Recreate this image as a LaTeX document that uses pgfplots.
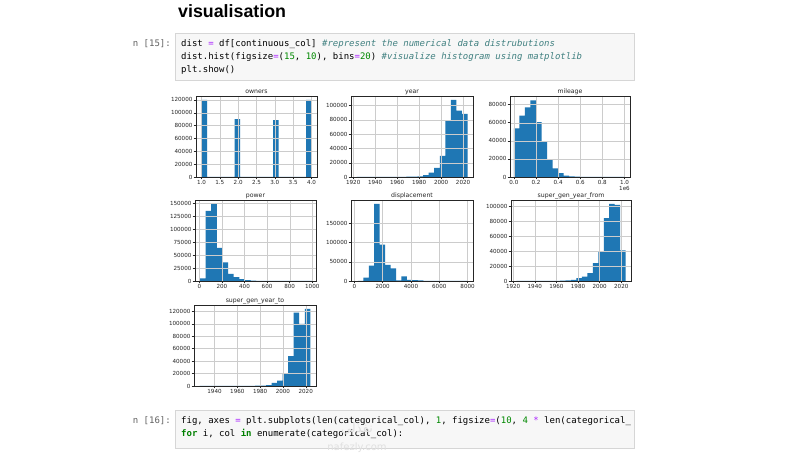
\documentclass[border=0pt]{standalone}
\usepackage{pgfplots}
\pgfplotsset{compat=1.18}
\usepackage{fontspec}
\setmainfont{DejaVu Sans}
\newfontfamily\headfont{Liberation Sans}
\newfontfamily\codefont{DejaVu Sans Mono}
\newfontfamily\arabicfont[Script=Arabic]{DejaVu Sans}
\TeXXeTstate=1
\definecolor{mplblue}{HTML}{1F77B4}
\definecolor{cmop}{HTML}{AA22FF}
\definecolor{cmnum}{HTML}{008800}
\definecolor{cmcom}{HTML}{408080}
\definecolor{cmkw}{HTML}{008000}
\definecolor{promptc}{HTML}{616161}
\pgfplotsset{
  every axis title/.style={at={(0.5,1)}, anchor=base, inner sep=0pt, yshift=2.8pt, font=\fontsize{6.2}{7}\selectfont, text=black!85},
  hist/.style={
  scale only axis, width=121pt, height=81pt,
  axis on top, grid=major, grid style={line width=0.35pt, color=black!20},
  axis line style={line width=0.45pt, black!85},
  tick style={line width=0.4pt, black!85}, major tick length=2.4pt, tick align=outside, tick pos=left,
  ticklabel style={font=\fontsize{5.6}{6}\selectfont, text=black!85},
  scaled ticks=false,
  ymin=0,
  xticklabel style={inner sep=1pt}, yticklabel style={inner sep=1pt},
}}
\begin{document}
\begin{tikzpicture}[x=1pt,y=1pt]
\path[fill=white] (0,0) rectangle (800,460);
% heading
\node[anchor=base west, inner sep=0] at (178,442) {\headfont\bfseries\fontsize{17.8}{20}\selectfont visualisation};
% first code cell
\filldraw[fill=black!3, draw=black!16, line width=0.5pt] (175,427) rectangle (634,380);
\node[anchor=base east, inner sep=0, text=promptc] at (171,413) {\codefont\fontsize{9}{11}\selectfont n [15]:};
\node[anchor=base west, inner sep=0] at (181,413) {\codefont\fontsize{9}{11}\selectfont dist {\color{cmop}=} df[continuous\_col] {\color{cmcom}\itshape \#represent the numerical data distrubutions}};
\node[anchor=base west, inner sep=0] at (181,400) {\codefont\fontsize{9}{11}\selectfont dist.hist(figsize{\color{cmop}=}({\color{cmnum}15}, {\color{cmnum}10}), bins{\color{cmop}=}{\color{cmnum}20}) {\color{cmcom}\itshape \#visualize histogram using matplotlib}};
\node[anchor=base west, inner sep=0] at (181,387) {\codefont\fontsize{9}{11}\selectfont plt.show()};
% second code cell
\filldraw[fill=black!3, draw=black!16, line width=0.5pt] (175,50) rectangle (634,12);
\node[anchor=base east, inner sep=0, text=promptc] at (171,36) {\codefont\fontsize{9}{11}\selectfont n [16]:};
\node[anchor=base west, inner sep=0] at (181,36) {\codefont\fontsize{9}{11}\selectfont fig, axes {\color{cmop}=} plt.subplots(len(categorical\_col), {\color{cmnum}1}, figsize{\color{cmop}=}({\color{cmnum}10}, {\color{cmnum}4} {\color{cmop}*} len(categorical\_};
\node[anchor=base west, inner sep=0] at (181,23) {\codefont\fontsize{9}{11}\selectfont {\color{cmkw}\bfseries for} i, col {\color{cmkw}\bfseries in} enumerate(categorical\_col):};
% watermark
\node[text=black!12, inner sep=0] at (357,31) {\arabicfont\fontsize{13}{15}\selectfont\beginR نفذلي\endR};
\node[text=black!12, inner sep=0] at (357,12) {\fontsize{10}{12}\selectfont nafezly.com};

% ---------- owners
\begin{axis}[hist, at={(196pt,283pt)}, anchor=south west, title={owners},
  xmin=0.85, xmax=4.15, ymax=126000,
  xtick={1,1.5,2,2.5,3,3.5,4}, xticklabels={1.0,1.5,2.0,2.5,3.0,3.5,4.0},
  ytick={0,20000,40000,60000,80000,100000,120000}, yticklabels={0,20000,40000,60000,80000,100000,120000}]
\addplot[ybar interval, fill=mplblue, draw=none] coordinates {
(1.00,120000) (1.15,0) (1.30,0) (1.45,0) (1.60,0) (1.75,0) (1.90,90000) (2.05,0) (2.20,0) (2.35,0)
(2.50,0) (2.65,0) (2.80,0) (2.95,88500) (3.10,0) (3.25,0) (3.40,0) (3.55,0) (3.70,0) (3.85,120000) (4.00,120000)};
\end{axis}
% ---------- year
\begin{axis}[hist, at={(351pt,283pt)}, anchor=south west, width=122pt, title={year},
  xmin=1918, xmax=2029, ymax=113400,
  xtick={1920,1940,1960,1980,2000,2020}, xticklabels={1920,1940,1960,1980,2000,2020},
  ytick={0,20000,40000,60000,80000,100000}, yticklabels={0,20000,40000,60000,80000,100000}]
\addplot[ybar interval, fill=mplblue, draw=none] coordinates {
(1923.00,30) (1928.05,20) (1933.10,20) (1938.15,30) (1943.20,40) (1948.25,60) (1953.30,100) (1958.35,150)
(1963.40,250) (1968.45,400) (1973.50,600) (1978.55,1000) (1983.60,2500) (1988.65,6000) (1993.70,12700)
(1998.75,29600) (2003.80,79000) (2008.85,108000) (2013.90,93000) (2018.95,88300) (2024.00,88300)};
\end{axis}
% ---------- mileage
\begin{axis}[hist, at={(510pt,283pt)}, anchor=south west, width=120pt, title={mileage}, clip=false,
  xmin=-0.035, xmax=1.05, ymax=89500,
  xtick={0,0.2,0.4,0.6,0.8,1.0}, xticklabels={0.0,0.2,0.4,0.6,0.8,1.0},
  ytick={0,20000,40000,60000,80000}, yticklabels={0,20000,40000,60000,80000}]
\addplot[ybar interval, fill=mplblue, draw=none] coordinates {
(0.00,53800) (0.05,67800) (0.10,77000) (0.15,84800) (0.20,60700) (0.25,38900) (0.30,19600) (0.35,9600)
(0.40,4200) (0.45,1600) (0.50,700) (0.55,300) (0.60,150) (0.65,80) (0.70,50) (0.75,30) (0.80,20)
(0.85,10) (0.90,10) (0.95,10) (1.00,10)};
\node[anchor=north east, inner sep=0, font=\fontsize{5.6}{6}\selectfont, text=black!85] at (rel axis cs:1,0) [yshift=-9.5pt] {1e6};
\end{axis}
% ---------- power
\begin{axis}[hist, at={(195pt,179pt)}, anchor=south west, title={power},
  xmin=-38, xmax=1033, ymax=157000,
  xtick={0,200,400,600,800,1000}, xticklabels={0,200,400,600,800,1000},
  ytick={0,25000,50000,75000,100000,125000,150000}, yticklabels={0,25000,50000,75000,100000,125000,150000}]
\addplot[ybar interval, fill=mplblue, draw=none] coordinates {
(6,5000) (55.7,136000) (105.4,149500) (155.1,64300) (204.8,36000) (254.5,14000) (304.2,7300) (353.9,3500)
(403.6,1500) (453.3,600) (503,300) (552.7,150) (602.4,80) (652.1,50) (701.8,30) (751.5,20) (801.2,10)
(850.9,10) (900.6,10) (950.3,10) (1000,10)};
\end{axis}
% ---------- displacement
\begin{axis}[hist, at={(351pt,179pt)}, anchor=south west, width=122pt, title={displacement},
  xmin=-233, xmax=8382, ymax=210000,
  xtick={0,2000,4000,6000,8000}, xticklabels={0,2000,4000,6000,8000},
  ytick={0,50000,100000,150000}, yticklabels={0,50000,100000,150000}]
\addplot[ybar interval, fill=mplblue, draw=none] coordinates {
(252,100) (637,9000) (1022,40000) (1407,200000) (1792,94000) (2177,42000) (2562,33000) (2947,1500)
(3332,12000) (3717,3000) (4102,2500) (4487,1500) (4872,500) (5257,300) (5642,200) (6027,100) (6412,100)
(6797,50) (7182,30) (7567,50) (7952,50)};
\end{axis}
% ---------- super_gen_year_from
\begin{axis}[hist, at={(511pt,179pt)}, anchor=south west, width=120pt, title={super\_gen\_year\_from},
  xmin=1918, xmax=2029, ymax=108150,
  xtick={1920,1940,1960,1980,2000,2020}, xticklabels={1920,1940,1960,1980,2000,2020},
  ytick={0,20000,40000,60000,80000,100000}, yticklabels={0,20000,40000,60000,80000,100000}]
\addplot[ybar interval, fill=mplblue, draw=none] coordinates {
(1923.00,20) (1928.05,20) (1933.10,30) (1938.15,50) (1943.20,80) (1948.25,100) (1953.30,200) (1958.35,300)
(1963.40,500) (1968.45,700) (1973.50,1500) (1978.55,4000) (1983.60,5800) (1988.65,10400) (1993.70,24000)
(1998.75,39000) (2003.80,84000) (2008.85,103000) (2013.90,101700) (2018.95,41000) (2024.00,41000)};
\end{axis}
% ---------- super_gen_year_to
\begin{axis}[hist, at={(194pt,74pt)}, anchor=south west, width=122pt, title={super\_gen\_year\_to},
  xmin=1922, xmax=2029, ymax=130200,
  xtick={1940,1960,1980,2000,2020}, xticklabels={1940,1960,1980,2000,2020},
  ytick={0,20000,40000,60000,80000,100000,120000}, yticklabels={0,20000,40000,60000,80000,100000,120000}]
\addplot[ybar interval, fill=mplblue, draw=none] coordinates {
(1927.00,10) (1931.85,10) (1936.70,10) (1941.55,20) (1946.40,30) (1951.25,50) (1956.10,80) (1960.95,100)
(1965.80,200) (1970.65,300) (1975.50,500) (1980.35,800) (1985.20,1500) (1990.05,5000) (1994.90,8500)
(1999.75,19000) (2004.60,48000) (2009.45,118000) (2014.30,100000) (2019.15,124000) (2024.00,124000)};
\end{axis}
\end{tikzpicture}
\end{document}
